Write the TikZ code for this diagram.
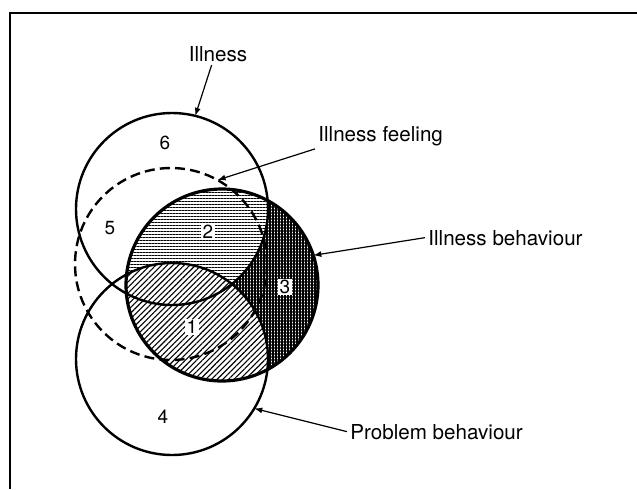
\documentclass[tikz,border=0pt]{standalone}
\usepackage{fontspec}
\setmainfont{TeX Gyre Heros}
\usetikzlibrary{arrows.meta,positioning,patterns.meta}

\begin{document}
\begin{tikzpicture}[
    x=0.5pt, y=-0.5pt,
    set/.style={
      draw=black, circle, inner sep=0pt, outer sep=0pt,
      minimum size=96pt, line width=1.2pt
    },
    feelset/.style={set, dash pattern=on 5pt off 2.6pt},
    behset/.style={set, line width=1.6pt},
    lbl/.style={inner sep=1.5pt, font=\fontsize{10.3}{12}\selectfont},
    num/.style={inner sep=0.8pt, font=\fontsize{9.5}{11}\selectfont},
    boxnum/.style={num, fill=white},
    arrow/.style={-{Latex[length=4pt,width=3pt]},line width=0.6pt,draw=black}
  ]
    \useasboundingbox (0,0) rectangle (637,489);
    \draw[line width=1.3pt] (637,13) -- (10,13) -- (10,489);

    \coordinate (c-ill) at (172,209);
    \coordinate (c-feel) at (171,264);
    \coordinate (c-beh) at (222,285);
    \coordinate (c-prob) at (172,359);

    % shading of the behaviour circle
    \fill[pattern={Hatch[distance=1.5pt,line width=0.85pt]}] (c-beh) circle[radius=96];
    \begin{scope}
      \clip (c-beh) circle[radius=96];
      \clip (c-ill) circle[radius=96];
      \fill[white] (c-ill) circle[radius=96];
      \fill[pattern={Lines[distance=1.5pt,line width=0.5pt]}] (c-ill) circle[radius=96];
    \end{scope}
    \begin{scope}
      \clip (c-beh) circle[radius=96];
      \clip (c-prob) circle[radius=96];
      \fill[white] (c-prob) circle[radius=96];
      \fill[pattern={Lines[angle=45,distance=2pt,line width=0.55pt]}] (c-prob) circle[radius=96];
    \end{scope}

    \node[set] (ill) at (c-ill) {};
    \node[feelset] (feel) at (c-feel) {};
    \node[behset] (beh) at (c-beh) {};
    \node[set] (prob) at (c-prob) {};

    \node[num] (n6) at (165,143) {6};
    \node[num] (n5) at (110,228) {5};
    \node[boxnum] (n2) at (208,232) {2};
    \node[boxnum] (n1) at (192,327) {1};
    \node[boxnum] (n3) at (285,287) {3};
    \node[num] (n4) at (163,417) {4};

    \node[lbl] (t-ill) at (218,54) {Illness};
    \node[lbl, anchor=base west] (t-feel) at (315,141) {Illness feeling};
    \node[lbl, anchor=base west] (t-beh) at (425,245) {Illness behaviour};
    \node[lbl, anchor=base west] (t-prob) at (347,439) {Problem behaviour};

    \draw[arrow] (t-ill.240) -- (ill.76);
    \draw[arrow] (t-feel.south west) -- (feel.61);
    \draw[arrow] (t-beh.west) -- (beh.18);
    \draw[arrow] (t-prob.west) -- (prob.-31);
  \end{tikzpicture}
\end{document}
